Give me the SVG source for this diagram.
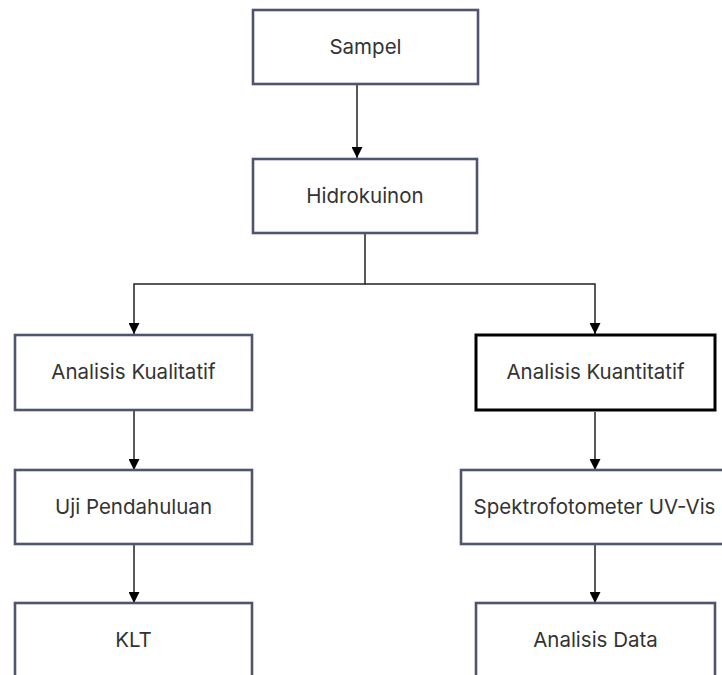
<svg xmlns="http://www.w3.org/2000/svg" width="722" height="675" viewBox="0 0 722 675">
<defs>
<marker id="arr" viewBox="0 0 10 10" refX="10" refY="5" markerWidth="11" markerHeight="11" markerUnits="userSpaceOnUse" orient="auto">
<path d="M0,0 L10,5 L0,10 Z" fill="#000"/>
</marker>
<style>
.box{fill:#fff;stroke:#4f5571;stroke-width:2.6}
.boxb{fill:#fff;stroke:#000;stroke-width:3}
.lbl{font-family:Inter,"Liberation Sans",sans-serif;font-size:20.5px;fill:#333;text-anchor:middle}
.ln{fill:none;stroke:#222;stroke-width:1.5}
</style>
</defs>
<rect width="722" height="675" fill="#fff"/>
<g id="connectors">
<path class="ln" d="M357,85 V158" marker-end="url(#arr)"/>
<path class="ln" d="M365,234 V284 H134 V334" marker-end="url(#arr)"/>
<path class="ln" d="M365,284 H595 V334" marker-end="url(#arr)"/>
<path class="ln" d="M134,411 V470" marker-end="url(#arr)"/>
<path class="ln" d="M595,412 V470" marker-end="url(#arr)"/>
<path class="ln" d="M134,545 V603" marker-end="url(#arr)"/>
<path class="ln" d="M595,545 V603" marker-end="url(#arr)"/>
</g>
<g id="sampel"><rect class="box" x="253" y="10" width="225" height="74"/><text class="lbl" x="365.5" y="54">Sampel</text></g>
<g id="hidrokuinon"><rect class="box" x="253" y="159" width="224" height="74"/><text class="lbl" x="365" y="203">Hidrokuinon</text></g>
<g id="kualitatif"><rect class="box" x="15" y="335" width="237" height="75"/><text class="lbl" x="133.5" y="379">Analisis Kualitatif</text></g>
<g id="kuantitatif"><rect class="boxb" x="476" y="335" width="239" height="75"/><text class="lbl" x="595.5" y="379">Analisis Kuantitatif</text></g>
<g id="uji"><rect class="box" x="15" y="470" width="237" height="74"/><text class="lbl" x="133.5" y="514">Uji Pendahuluan</text></g>
<g id="spektro"><rect class="box" x="461" y="470" width="270" height="74"/><text class="lbl" x="594.5" y="514">Spektrofotometer UV-Vis</text></g>
<g id="klt"><rect class="box" x="15" y="603" width="237" height="80"/><text class="lbl" x="133.5" y="647">KLT</text></g>
<g id="data"><rect class="box" x="476" y="603" width="239" height="80"/><text class="lbl" x="595.5" y="647">Analisis Data</text></g>
</svg>
